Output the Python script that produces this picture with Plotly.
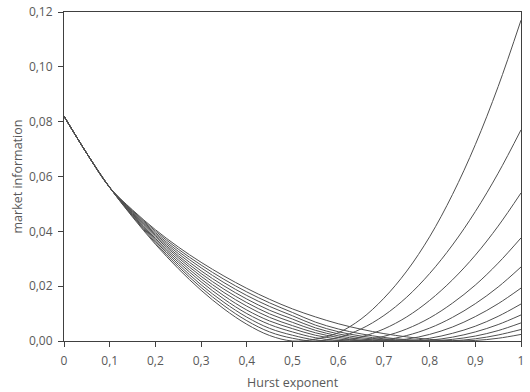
import plotly.graph_objects as go

# Hurst exponent grid
hurst = [0.0, 0.05, 0.1, 0.15, 0.2, 0.25, 0.3, 0.35, 0.4, 0.45, 0.5,
         0.55, 0.6, 0.65, 0.7, 0.75, 0.8, 0.85, 0.9, 0.95, 1.0]

# market information, one list per curve
curve_1 = [0.082, 0.0684, 0.056, 0.0452, 0.0353, 0.0264, 0.0185, 0.0117, 0.0061, 0.0020, 0.0000,
           0.0007, 0.0030, 0.0080, 0.0156, 0.0255, 0.0380, 0.0534, 0.0716, 0.0928, 0.1170]
curve_2 = [0.082, 0.0684, 0.056, 0.0455, 0.0358, 0.0272, 0.0195, 0.0129, 0.0074, 0.0033, 0.0010,
           0.0000, 0.0013, 0.0044, 0.0093, 0.0160, 0.0246, 0.0350, 0.0472, 0.0612, 0.0770]
curve_3 = [0.082, 0.0684, 0.056, 0.0457, 0.0364, 0.0280, 0.0205, 0.0141, 0.0087, 0.0046, 0.0021,
           0.0004, 0.0001, 0.0015, 0.0044, 0.0088, 0.0148, 0.0223, 0.0313, 0.0419, 0.0540]
curve_4 = [0.082, 0.0684, 0.056, 0.0460, 0.0369, 0.0288, 0.0216, 0.0153, 0.0100, 0.0060, 0.0033,
           0.0012, 0.0002, 0.0002, 0.0017, 0.0044, 0.0084, 0.0138, 0.0204, 0.0284, 0.0376]
curve_5 = [0.082, 0.0684, 0.056, 0.0462, 0.0374, 0.0296, 0.0226, 0.0165, 0.0113, 0.0073, 0.0045,
           0.0021, 0.0007, 0.0001, 0.0004, 0.0020, 0.0047, 0.0086, 0.0136, 0.0197, 0.0270]
curve_6 = [0.082, 0.0684, 0.056, 0.0465, 0.0380, 0.0304, 0.0236, 0.0177, 0.0127, 0.0086, 0.0056,
           0.0030, 0.0013, 0.0003, 0.0000, 0.0007, 0.0024, 0.0051, 0.0089, 0.0136, 0.0193]
curve_7 = [0.082, 0.0684, 0.056, 0.0468, 0.0385, 0.0311, 0.0246, 0.0189, 0.0140, 0.0099, 0.0068,
           0.0039, 0.0019, 0.0007, 0.0002, 0.0001, 0.0010, 0.0028, 0.0054, 0.0090, 0.0135]
curve_8 = [0.082, 0.0684, 0.056, 0.0470, 0.0390, 0.0319, 0.0256, 0.0201, 0.0153, 0.0112, 0.0080,
           0.0048, 0.0026, 0.0012, 0.0004, 0.0000, 0.0003, 0.0014, 0.0033, 0.0060, 0.0095]
curve_9 = [0.082, 0.0684, 0.056, 0.0473, 0.0395, 0.0327, 0.0267, 0.0213, 0.0166, 0.0126, 0.0092,
           0.0058, 0.0034, 0.0018, 0.0008, 0.0002, 0.0000, 0.0006, 0.0018, 0.0038, 0.0066]
curve_10 = [0.082, 0.0684, 0.056, 0.0475, 0.0401, 0.0335, 0.0277, 0.0225, 0.0179, 0.0139, 0.0104,
            0.0069, 0.0044, 0.0026, 0.0013, 0.0005, 0.0001, 0.0001, 0.0008, 0.0022, 0.0042]
curve_11 = [0.082, 0.0684, 0.056, 0.0478, 0.0406, 0.0343, 0.0287, 0.0237, 0.0192, 0.0152, 0.0117,
            0.0088, 0.0063, 0.0043, 0.0027, 0.0015, 0.0006, 0.0001, 0.0002, 0.0010, 0.0024]

curves = [curve_1, curve_2, curve_3, curve_4, curve_5, curve_6,
          curve_7, curve_8, curve_9, curve_10, curve_11]

x_tick_vals = [0, 0.1, 0.2, 0.3, 0.4, 0.5, 0.6, 0.7, 0.8, 0.9, 1]
x_tick_text = ["0", "0,1", "0,2", "0,3", "0,4", "0,5", "0,6", "0,7", "0,8", "0,9", "1"]
y_tick_vals = [0, 0.02, 0.04, 0.06, 0.08, 0.10, 0.12]
y_tick_text = ["0,00", "0,02", "0,04", "0,06", "0,08", "0,10", "0,12"]
x_title = "Hurst exponent"
y_title = "market information"

fig = go.Figure()
for c in curves:
    fig.add_trace(go.Scatter(x=hurst, y=c, mode="lines",
                             line=dict(color="#505050", width=1, shape="spline", smoothing=1),
                             hoverinfo="skip"))

font_family = "Open Sans, Noto Sans, sans-serif"
fig.update_layout(
    width=530, height=392,
    margin=dict(l=64, r=9, t=12, b=51, autoexpand=False),
    showlegend=False,
    plot_bgcolor="white", paper_bgcolor="white",
    font=dict(family=font_family, size=12, color="#595959"),
    annotations=[
        dict(text=x_title, xref="paper", yref="paper", x=0.5, y=0,
             xanchor="center", yanchor="middle", yshift=-41, showarrow=False,
             font=dict(size=12.5, color="#595959")),
        dict(text=y_title, xref="paper", yref="paper", x=0, y=0.5,
             xanchor="center", yanchor="middle", xshift=-47, textangle=-90,
             showarrow=False, font=dict(size=12.5, color="#595959")),
    ],
)
fig.update_xaxes(
    range=[0, 1], showgrid=False, zeroline=False, automargin=False,
    showline=True, mirror=True, linecolor="#404040", linewidth=1,
    ticks="outside", ticklen=5, tickcolor="#404040",
    tickvals=x_tick_vals, ticktext=x_tick_text, ticklabelstandoff=4,
)
fig.update_yaxes(
    range=[0, 0.12], showgrid=False, zeroline=False, automargin=False,
    showline=True, mirror=True, linecolor="#404040", linewidth=1,
    ticks="outside", ticklen=5, tickcolor="#404040",
    tickvals=y_tick_vals, ticktext=y_tick_text, ticklabelstandoff=3,
)
fig.write_html("out.html", config={"displayModeBar": False},
               post_script="document.body.style.margin='0';document.body.style.overflow='hidden';")
